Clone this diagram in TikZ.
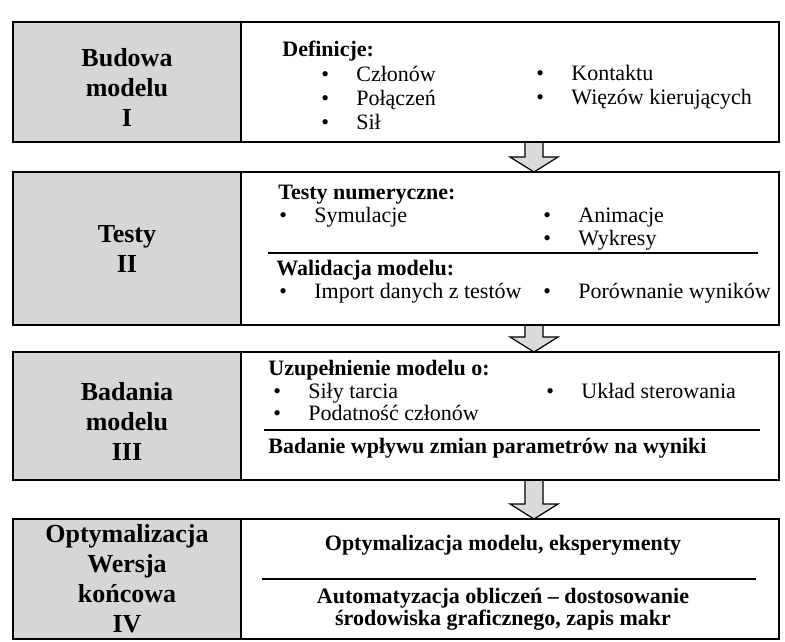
\documentclass[tikz,border=0pt]{standalone}
\usepackage{fontspec}
\setmainfont{Liberation Serif}
\usetikzlibrary{positioning,calc,backgrounds}
\newcommand{\pkt}{\makebox[35pt][l]{•}}

\begin{document}
\begin{tikzpicture}[x=1pt, y=-1pt, thick]
    % Style
    \tikzstyle{etap}=[rectangle, draw=black, line width=1.6pt, fill=black!16, outer sep=0pt, minimum width=228pt, align=center, font=\fontsize{26}{30}\selectfont\bfseries]
    \tikzstyle{opis}=[rectangle, draw=black, line width=1.6pt, fill=white, outer sep=0pt, minimum width=538pt]
    \tikzstyle{tekst}=[anchor=base west, inner sep=0pt, font=\fontsize{22}{22}\selectfont]
    \tikzstyle{naglowek}=[tekst, font=\fontsize{22}{22}\selectfont\bfseries]
    \tikzstyle{strzalka}=[draw=black, line width=1.2pt, fill=black!14, line join=miter]
    \tikzstyle{kreska}=[line width=1.3pt]

    \useasboundingbox (0,0) rectangle (785,641);

    % Etapy
    \node (etap1) [etap, minimum height=120pt] at (127,82) {\rule{0pt}{28pt}Budowa\\modelu\\I};
    \node (opis1) [opis, minimum height=120pt, right=0pt of etap1] {};
    \node (etap2) [etap, minimum height=153pt] at (127,248.5) {Testy\\II};
    \node (opis2) [opis, minimum height=153pt, right=0pt of etap2] {};
    \node (etap3) [etap, minimum height=128pt] at (127,416) {\rule{0pt}{28pt}Badania\\modelu\\III};
    \node (opis3) [opis, minimum height=128pt, right=0pt of etap3] {};
    \node (etap4) [etap, minimum height=120pt] at (127,579) {Optymalizacja\\Wersja\\końcowa\\IV};
    \node (opis4) [opis, minimum height=120pt, right=0pt of etap4] {};

    % Strzalki
    \coordinate (os) at (534,0);
    \begin{scope}[on background layer]
    \foreach \a/\b in {opis1/opis2, opis2/opis3, opis3/opis4} {
        \draw[strzalka] ($(\a.south -| os)+(-9,0)$) -- ($(\b.north -| os)+(-9,-15)$) -- ++(-15,0) -- (\b.north -| os) -- ($(\b.north -| os)+(24,-15)$) -- ++(-15,0) -- ($(\a.south -| os)+(9,0)$);
    }
    \end{scope}

    % Blok I
    \node (def) [naglowek] at (282,56) {Definicje:};
    \node (czl) [tekst] at (321,81) {\pkt Członów};
    \node (pol) [tekst] at (321,105) {\pkt Połączeń};
    \node (sil) [tekst] at (321,129) {\pkt Sił};
    \node (kon) [tekst] at (536,80) {\pkt Kontaktu};
    \node (wie) [tekst] at (536,104) {\pkt Więzów kierujących};

    % Blok II
    \node (tnum) [naglowek] at (278,199) {Testy numeryczne:};
    \node (sym) [tekst] at (279,222) {\pkt Symulacje};
    \node (ani) [tekst] at (543,222) {\pkt Animacje};
    \node (wyk) [tekst] at (543,245) {\pkt Wykresy};
    \draw[kreska] (268,253) -- (758,253);
    \node (wal) [naglowek] at (276,275) {Walidacja modelu:};
    \node (imp) [tekst] at (279,298) {\pkt Import danych z testów};
    \node (por) [tekst] at (543,298) {\pkt Porównanie wyników};

    % Blok III
    \node (uzu) [naglowek] at (268,375) {Uzupełnienie modelu o:};
    \node (tar) [tekst] at (273,398) {\pkt Siły tarcia};
    \node (ukl) [tekst] at (546,398) {\pkt Układ sterowania};
    \node (pod) [tekst] at (273,420) {\pkt Podatność członów};
    \draw[kreska] (264,430) -- (760,430);
    \node (bad) [naglowek] at (268,453) {Badanie wpływu zmian parametrów na wyniki};

    % Blok IV
    \node (opt) [naglowek, anchor=base] at (503,550) {Optymalizacja modelu, eksperymenty};
    \draw[kreska] (262,579) -- (756,579);
    \node (aut1) [naglowek, anchor=base] at (503,603) {Automatyzacja obliczeń – dostosowanie};
    \node (aut2) [naglowek, anchor=base] at (503,625) {środowiska graficznego, zapis makr};
\end{tikzpicture}
\end{document}
